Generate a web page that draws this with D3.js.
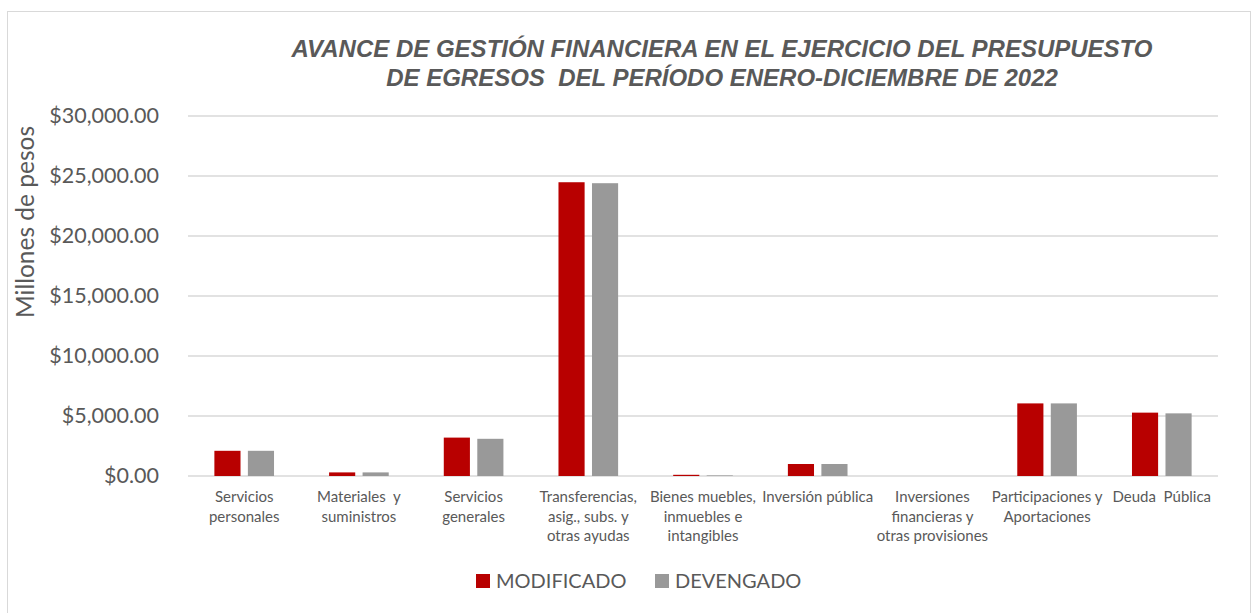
<!DOCTYPE html>
<html>
<head>
<meta charset="utf-8">
<script src="https://cdn.jsdelivr.net/npm/d3@7"></script>
<style>
  body { margin: 0; background: #fff; }
  text { fill: #595959; font-family: Lato, "Open Sans", sans-serif; }
</style>
</head>
<body>
<script>
// categories (line-broken the way the labels are shown)
var categories = [
  ["Servicios", "personales"],
  ["Materiales  y", "suministros"],
  ["Servicios", "generales"],
  ["Transferencias,", "asig., subs. y", "otras ayudas"],
  ["Bienes muebles,", "inmuebles e", "intangibles"],
  ["Inversión pública"],
  ["Inversiones", "financieras y", "otras provisiones"],
  ["Participaciones y", "Aportaciones"],
  ["Deuda  Pública"]
];
var modificado = [2100, 300, 3200, 24480, 100, 1000, 0, 6050, 5280];
var devengado  = [2100, 300, 3100, 24400, 50, 1000, 0, 6050, 5220];
var seriesNames = ["MODIFICADO", "DEVENGADO"];
var yTicks = [0, 5000, 10000, 15000, 20000, 25000, 30000];
var titleLines = [
  "AVANCE DE GESTIÓN FINANCIERA EN EL EJERCICIO DEL PRESUPUESTO",
  "DE EGRESOS  DEL PERÍODO ENERO-DICIEMBRE DE 2022"
];

var W = 1251, H = 613;
var margin = {top: 116, left: 188};
var width = 1218 - margin.left;
var height = 476 - margin.top;
var colors = ["#b80000", "#999999"];

var svg = d3.select("body").append("svg")
    .attr("width", W)
    .attr("height", H);

// outer frame
svg.append("rect")
    .attr("x", 7.5).attr("y", 11.5)
    .attr("width", W - 8).attr("height", H - 10)
    .attr("fill", "none")
    .attr("stroke", "#d9d9d9");

// title
svg.append("g").selectAll("text")
    .data(titleLines)
  .enter().append("text")
    .attr("x", 722)
    .attr("y", function(d, i) { return 57 + i * 29; })
    .attr("text-anchor", "middle")
    .style("white-space", "pre")
    .style("font-family", "'Liberation Sans', Arial, sans-serif")
    .style("font-size", "24px")
    .style("font-weight", "bold")
    .style("font-style", "italic")
    .text(function(d) { return d; });

var g = svg.append("g")
    .attr("transform", "translate(" + margin.left + "," + margin.top + ")");

var x0 = d3.scaleBand()
    .domain(d3.range(categories.length))
    .range([0, width])
    .paddingInner(0.48)
    .paddingOuter(0.23);

var x1 = d3.scaleBand()
    .domain([0, 1])
    .range([0, x0.bandwidth()])
    .paddingInner(0.22);

var y = d3.scaleLinear()
    .domain([0, 30000])
    .range([height, 0]);

// gridlines
g.append("g")
    .selectAll("line")
    .data(yTicks)
  .enter().append("line")
    .attr("x1", 0).attr("x2", width)
    .attr("y1", function(d) { return y(d); })
    .attr("y2", function(d) { return y(d); })
    .attr("stroke", "#d9d9d9")
    .attr("stroke-width", 1.5);

// y axis labels
var yAxis = d3.axisLeft(y)
    .tickValues(yTicks)
    .tickSize(0)
    .tickPadding(29)
    .tickFormat(function(d) { return "$" + d3.format(",.2f")(d); });

g.append("g")
    .call(yAxis)
    .call(function(s) { s.select(".domain").remove(); })
    .selectAll("text")
    .style("font-size", "21.5px")
    .style("fill", "#595959")
    .style("font-family", "Lato, sans-serif");

// bars
var groups = g.selectAll(".grp")
    .data(categories.map(function(c, i) { return [modificado[i], devengado[i]]; }))
  .enter().append("g")
    .attr("class", "grp")
    .attr("transform", function(d, i) { return "translate(" + x0(i) + ",0)"; });

groups.selectAll("rect")
    .data(function(d) { return d; })
  .enter().append("rect")
    .attr("x", function(d, j) { return x1(j); })
    .attr("width", x1.bandwidth())
    .attr("y", function(d) { return y(d); })
    .attr("height", function(d) { return height - y(d); })
    .attr("fill", function(d, j) { return colors[j]; });

// x labels
var xl = g.append("g").selectAll("text")
    .data(categories)
  .enter().append("text")
    .attr("x", function(d, i) { return x0(i) + x0.bandwidth() / 2; })
    .attr("y", height + 26)
    .attr("text-anchor", "middle")
    .style("font-size", "15px");

xl.selectAll("tspan")
    .data(function(d) { return d; })
  .enter().append("tspan")
    .attr("x", function() { return d3.select(this.parentNode).attr("x"); })
    .attr("dy", function(d, i) { return i === 0 ? 0 : 19.5; })
    .style("white-space", "pre")
    .text(function(d) { return d; });

// y axis title
svg.append("text")
    .attr("transform", "translate(34,222) rotate(-90)")
    .attr("text-anchor", "middle")
    .style("font-size", "24.5px")
    .text("Millones de pesos");

// legend
var legend = svg.append("g")
    .attr("transform", "translate(476,574)");
var lx = [0, 179];
var li = legend.selectAll("g")
    .data(seriesNames)
  .enter().append("g")
    .attr("transform", function(d, i) { return "translate(" + lx[i] + ",0)"; });
li.append("rect")
    .attr("width", 14).attr("height", 14)
    .attr("fill", function(d, i) { return colors[i]; });
li.append("text")
    .attr("x", 20).attr("y", 14)
    .style("font-size", "20px")
    .text(function(d) { return d; });
</script>
</body>
</html>
